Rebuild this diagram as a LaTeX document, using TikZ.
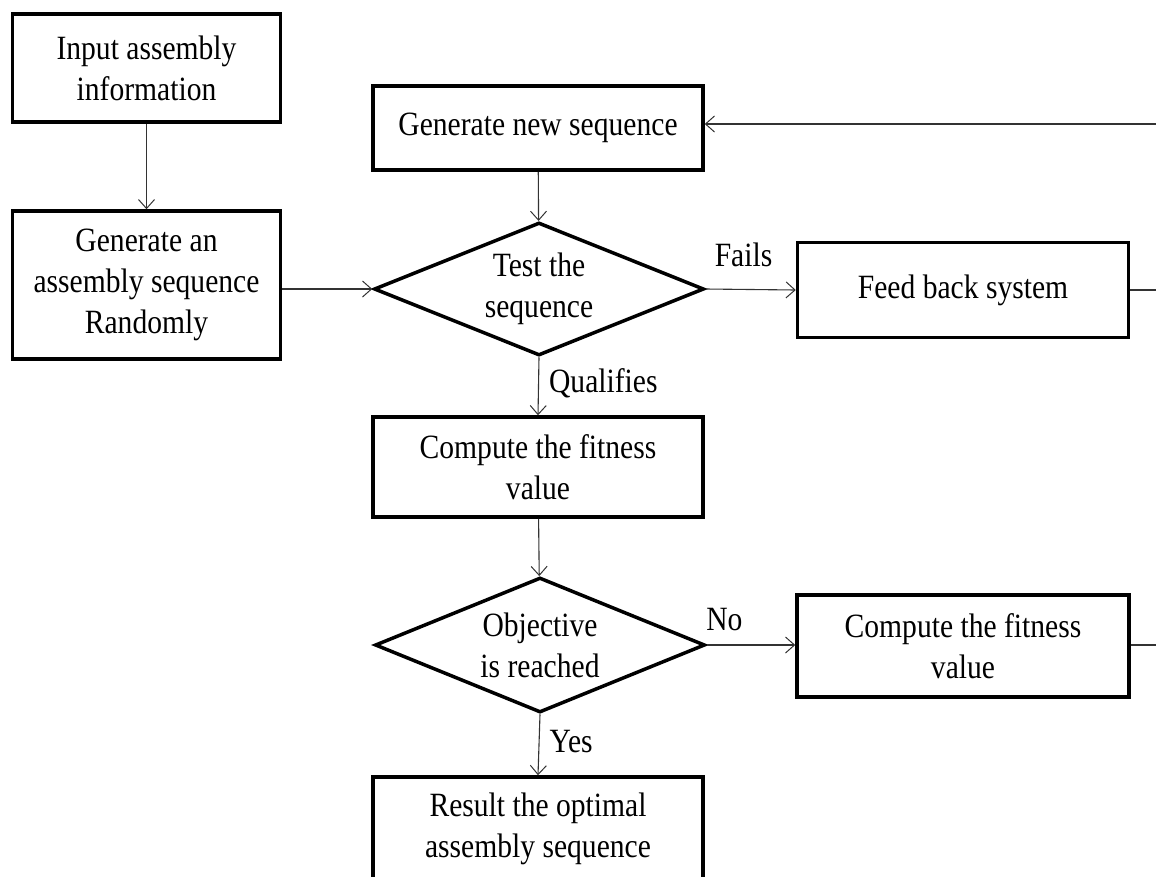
\documentclass[tikz,border=0pt]{standalone}
\usepackage{fontspec}
\setmainfont{Liberation Serif}[FakeStretch=0.87]
\usetikzlibrary{shapes.geometric,arrows.meta}
\begin{document}
\begin{tikzpicture}[x=1pt,y=-1pt,
  every node/.style={font=\fontsize{34}{41}\selectfont},
  procbox/.style={draw, line width=3.5pt, rectangle, align=center, inner sep=0pt},
  decbox/.style={draw, line width=3.5pt, diamond, aspect=2.5, align=center, inner sep=0pt},
  conn/.style={line width=1.1pt, draw=black!80, -{Straight Barb[length=9pt,width=16pt,line width=1pt]}},
  plainconn/.style={line width=1.1pt, draw=black!80},
  lbl/.style={inner sep=0pt}]
\useasboundingbox (0,0) rectangle (1156,876);
\clip (0,0) rectangle (1156,876);
\node[procbox, minimum width=268pt, minimum height=108pt] (in) at (146.5,68) {Input assembly\\information};
\node[procbox, minimum width=268pt, minimum height=148pt] (gen) at (146.5,285) {Generate an\\assembly sequence\\Randomly};
\node[procbox, minimum width=330pt, minimum height=84pt] (newseq) at (538,128) {Generate new sequence};
\node[decbox, minimum width=330pt, minimum height=133pt] (test) at (539,289) {Test the\\sequence};
\node[procbox, minimum width=331pt, minimum height=95pt] (feed) at (963,290) {Feed back system};
\node[procbox, minimum width=330pt, minimum height=100pt] (fit) at (538,467) {Compute the fitness\\value};
\node[decbox, minimum width=330pt, minimum height=135pt] (obj) at (540,645) {Objective\\is reached};
\node[procbox, minimum width=332pt, minimum height=102pt] (fit2) at (963,646) {Compute the fitness\\value};
\node[procbox, minimum width=330pt, minimum height=104pt] (res) at (538,829) {Result the optimal\\assembly sequence};
\coordinate (e1) at (1160,124);
\coordinate (e2) at (1160,290);
\coordinate (e3) at (1160,645);
\draw[conn] (in) -- (gen);
\draw[conn] (gen.east |- test.west) -- (test.west);
\draw[conn] (newseq) -- (test);
\draw[conn] (test.east) -- (feed.west) node[lbl, pos=0.42, above=22pt] {Fails};
\draw[plainconn] (feed.east) -- (e2);
\draw[conn] (e1) -- (newseq.east |- e1);
\draw[conn] (test.south) -- (fit.north) node[lbl, pos=0.45, right=10pt] {Qualifies};
\draw[conn] (fit) -- (obj);
\draw[conn] (obj.east) -- (fit2.west |- obj.east) node[lbl, pos=0.2, above=14pt] {No};
\draw[plainconn] (fit2.east |- e3) -- (e3);
\draw[conn] (obj.south) -- (res.north) node[lbl, pos=0.45, right=10pt] {Yes};
\end{tikzpicture}
\end{document}
